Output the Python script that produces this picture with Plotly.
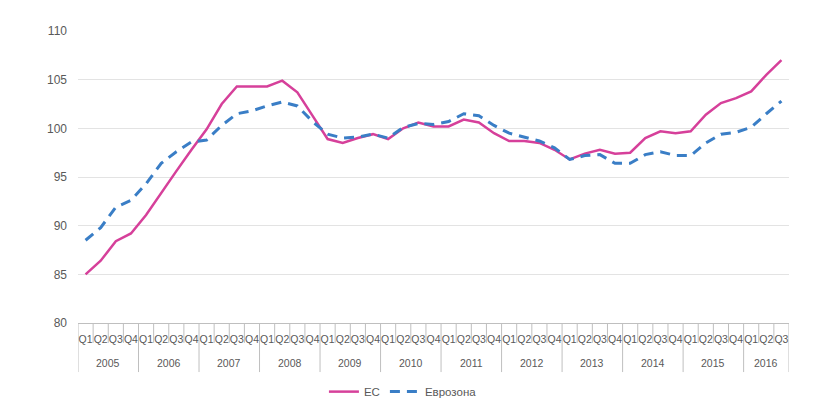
import plotly.graph_objects as go

years = ["2005"] * 4 + ["2006"] * 4 + ["2007"] * 4 + ["2008"] * 4 + ["2009"] * 4 + ["2010"] * 4 + \
        ["2011"] * 4 + ["2012"] * 4 + ["2013"] * 4 + ["2014"] * 4 + ["2015"] * 4 + ["2016"] * 3
quarters = ["Q1", "Q2", "Q3", "Q4"] * 11 + ["Q1", "Q2", "Q3"]

ec = [85.0, 86.4, 88.4, 89.2, 91.1, 93.4, 95.6, 97.8, 99.9, 102.5, 104.3, 104.3,
      104.3, 104.9, 103.7, 101.3, 98.9, 98.5, 99.0, 99.4, 98.9, 100.0, 100.6, 100.2,
      100.2, 100.9, 100.6, 99.5, 98.7, 98.7, 98.5, 97.8, 96.8, 97.4, 97.8, 97.4,
      97.5, 99.0, 99.7, 99.5, 99.7, 101.4, 102.6, 103.1, 103.8, 105.5, 107.0]
eurozone = [88.5, 89.8, 91.9, 92.6, 94.3, 96.4, 97.6, 98.6, 98.8, 100.3, 101.5, 101.8,
            102.3, 102.7, 102.3, 100.7, 99.4, 99.0, 99.1, 99.4, 99.0, 100.1, 100.5, 100.4,
            100.7, 101.5, 101.3, 100.3, 99.5, 99.1, 98.7, 98.0, 96.8, 97.2, 97.3, 96.4,
            96.4, 97.3, 97.6, 97.2, 97.2, 98.5, 99.4, 99.6, 100.1, 101.5, 102.8]

y_ticks = [80, 85, 90, 95, 100, 105, 110]
series_names = ["ЕС", "Еврозона"]

n = len(quarters)
xs = list(range(n))
gray = "#595959"
axis_gray = "#bfbfbf"

fig = go.Figure()
fig.add_trace(go.Scatter(x=xs, y=ec, name=series_names[0], mode="lines",
                         line=dict(color="#D6409A", width=2.5)))
fig.add_trace(go.Scatter(x=xs, y=eurozone, name=series_names[1], mode="lines",
                         line=dict(color="#3A7EC6", width=3, dash="10px,7px")))

# category boundary lines (quarter ticks short, year dividers long)
year_starts = [i for i in range(n) if i == 0 or years[i] != years[i - 1]]
for i in range(n + 1):
    is_year = (i in year_starts) or i == n
    fig.add_shape(type="line", xref="x", yref="paper", x0=i - 0.5, x1=i - 0.5,
                  y0=0, y1=-0.168 if is_year else -0.068,
                  line=dict(color=axis_gray, width=1), layer="below")

# year labels centred on their groups
for k, s in enumerate(year_starts):
    e = year_starts[k + 1] if k + 1 < len(year_starts) else n
    fig.add_annotation(x=(s + e - 1) / 2, xref="x", y=-0.137, yref="paper",
                       text=years[s], showarrow=False, yanchor="middle",
                       font=dict(size=10.5, color=gray))

fig.update_layout(
    width=821, height=405,
    margin=dict(l=78, r=32, t=31, b=82, autoexpand=False),
    paper_bgcolor="white", plot_bgcolor="white",
    font=dict(family="Liberation Sans", size=11, color=gray),
    showlegend=True,
    legend=dict(orientation="h", x=0.457, xanchor="center", y=-0.235, yanchor="middle",
                font=dict(size=11.5, color=gray), itemwidth=30),
    xaxis=dict(range=[-0.5, n - 0.5], automargin=False,
               tickvals=xs, ticktext=quarters, ticks="", ticklabelstandoff=6,
               showline=True, linecolor=axis_gray, linewidth=1,
               tickangle=0, tickfont=dict(size=10.5, color=gray),
               showgrid=False, zeroline=False),
    yaxis=dict(range=[80, 110], tickvals=y_ticks, showgrid=True, gridcolor="#e3e3e3",
               automargin=False,
               zeroline=False, showline=False, ticks="", ticklabelstandoff=10,
               tickfont=dict(size=12, color=gray)),
)

fig.write_html("out.html", config={"displayModeBar": False},
               post_script="document.body.style.margin='0';")
